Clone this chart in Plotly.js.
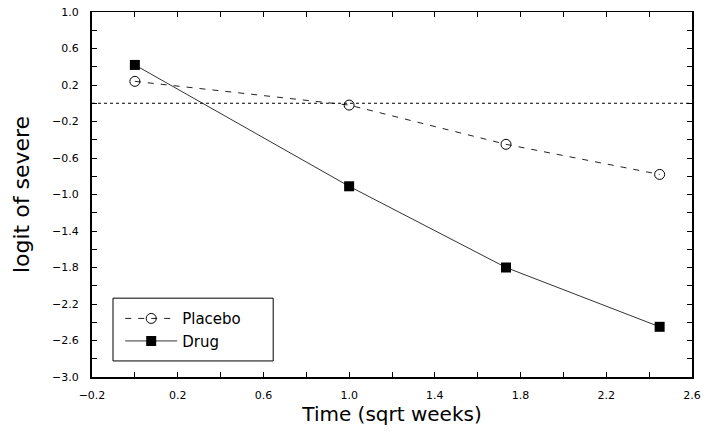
<!DOCTYPE html>
<html>
<head>
<meta charset="utf-8">
<script src="https://cdn.plot.ly/plotly-3.0.1.min.js"></script>
<style>html,body{margin:0;padding:0;background:#fff;}#chart{width:706px;height:433px;}</style>
</head>
<body>
<div id="chart"></div>
<script>
// Data
const timeSqrtWeeks = [0, 1.0, 1.732, 2.449];
const placeboLogit = [0.24, -0.02, -0.45, -0.78];
const drugLogit = [0.42, -0.91, -1.80, -2.45];
const seriesNames = ["Placebo", "Drug"];
const referenceY = 0;

const traces = [
  {
    x: timeSqrtWeeks, y: placeboLogit, name: seriesNames[0],
    type: 'scatter', mode: 'lines+markers',
    line: {color: '#222', width: 1, dash: '6px,7px'},
    marker: {symbol: 'circle-open', size: 10, color: '#000', line: {width: 1, color: '#000'}}
  },
  {
    x: timeSqrtWeeks, y: drugLogit, name: seriesNames[1],
    type: 'scatter', mode: 'lines+markers',
    line: {color: '#333', width: 1},
    marker: {symbol: 'square', size: 10, color: '#000'}
  }
];

const axisFont = {family: 'DejaVu Sans, Liberation Sans, sans-serif', size: 11, color: '#000'};

const layout = {
  width: 706, height: 433,
  margin: {l: 92, r: 14, t: 12, b: 56},
  paper_bgcolor: '#fff', plot_bgcolor: '#fff',
  showlegend: true,
  legend: {
    x: 0.047, y: 0.205, xanchor: 'left', yanchor: 'top',
    borderwidth: 0, bgcolor: 'rgba(0,0,0,0)',
    font: {family: 'DejaVu Sans, sans-serif', size: 15, color: '#000'},
    itemwidth: 52, tracegroupgap: 0
  },
  xaxis: {
    range: [-0.2, 2.6], tick0: -0.2, dtick: 0.4, tickformat: '.1f',
    ticks: 'inside', ticklen: 5, tickwidth: 1, tickcolor: '#000',
    minor: {dtick: 0.2, tick0: -0.2, ticks: 'inside', ticklen: 5, tickcolor: '#000'},
    showline: true, linecolor: '#000', linewidth: 1.5, mirror: 'ticks',
    showgrid: false, zeroline: false,
    tickfont: axisFont, ticklabelstandoff: 7,
    title: {text: 'Time (sqrt weeks)', font: {family: 'DejaVu Sans, sans-serif', size: 20, color: '#000'}, standoff: 6}
  },
  yaxis: {
    range: [-3.0, 1.0], tick0: -3.0, dtick: 0.4, tickformat: '.1f',
    ticks: 'inside', ticklen: 5, tickwidth: 1, tickcolor: '#000',
    minor: {dtick: 0.2, tick0: -3.0, ticks: 'inside', ticklen: 5, tickcolor: '#000'},
    showline: true, linecolor: '#000', linewidth: 2, mirror: 'ticks',
    showgrid: false, zeroline: false,
    tickfont: axisFont, ticklabelstandoff: 9,
    title: {text: 'logit of severe', font: {family: 'DejaVu Sans, sans-serif', size: 22, color: '#000'}, standoff: 16}
  },
  shapes: [
    {type: 'line', xref: 'paper', x0: 0, x1: 1, yref: 'y', y0: referenceY, y1: referenceY,
     line: {color: '#000', width: 1, dash: 'dot'}},
    {type: 'rect', xref: 'paper', yref: 'paper', x0: 0.035, x1: 0.302, y0: 0.044, y1: 0.216,
     line: {color: '#000', width: 1}, fillcolor: '#fff', layer: 'above'}
  ]
};

Plotly.newPlot('chart', traces, layout, {displayModeBar: false, staticPlot: true});
</script>
</body>
</html>
